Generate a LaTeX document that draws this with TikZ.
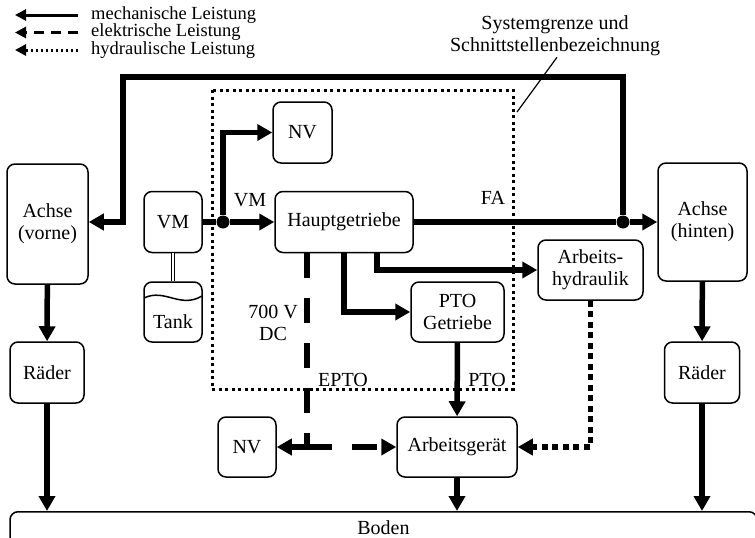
\documentclass[tikz,border=0pt]{standalone}
\usepackage{fontspec}
\setmainfont{Liberation Serif}
\usetikzlibrary{arrows.meta,positioning}

\tikzset{
  box/.style={draw,line width=1.5pt,rounded corners=8pt,align=center,inner sep=2pt},
  thickline/.style={line width=5.5pt},
  mech/.style={thickline,-{Triangle[length=15pt,width=16pt]}},
  elek/.style={mech,dash pattern=on 25pt off 20pt},
  hydr/.style={mech,dash pattern=on 6pt off 4.5pt},
  legmech/.style={line width=3pt,-{Triangle[length=11pt,width=11pt]}},
  legelek/.style={legmech,dash pattern=on 10pt off 7pt},
  leghydr/.style={legmech,dash pattern=on 2.5pt off 2.5pt},
  grenze/.style={line width=3pt,dash pattern=on 3pt off 3.5pt},
  junc/.style={circle,fill,inner sep=0pt,minimum size=13pt},
  lbl/.style={inner sep=1pt,align=center}
}

\begin{document}
\begin{tikzpicture}[x=1pt,y=-1pt,font=\fontsize{20pt}{22pt}\selectfont]
  \useasboundingbox (0,0) rectangle (755,538);

  % legend
  \foreach \y/\st/\txt in {15/legmech/mechanische Leistung,32.5/legelek/elektrische Leistung,50/leghydr/hydraulische Leistung} {
    \draw[\st] (78,\y) -- (15,\y);
    \node[inner sep=0pt,anchor=west,font=\fontsize{18.5pt}{20pt}\selectfont] at (91,\y) {\txt};
  }

  % system boundary
  \draw[grenze] (212,90) rectangle (513,389);
  \node[lbl] (sgtxt) at (555,36) {Systemgrenze und\\Schnittstellenbezeichnung};
  \coordinate (sgpt) at (517,112);
  \draw[line width=1.2pt] (sgpt) -- ([xshift=2pt]sgtxt.south);

  % blocks
  \node[box,minimum width=81pt,minimum height=120pt] (achsev) at (47.5,224) {Achse\\(vorne)};
  \node[box,minimum width=74pt,minimum height=61pt] (raederv) at (47,372.5) {Räder};
  \node[box,minimum width=58pt,minimum height=61pt] (vm) at (173,222) {VM};
  \node[box,minimum width=58pt,minimum height=60pt] (tank) at (173,312) {};
  \node[lbl] (tanktxt) at (173,322) {Tank};
  \node[box,minimum width=59pt,minimum height=61pt] (nv1) at (302.5,132.5) {NV};
  \node[box,minimum width=138pt,minimum height=61pt] (haupt) at (344,222) {Hauptgetriebe};
  \node[box,minimum width=93pt,minimum height=60pt] (ptog) at (457.5,312) {PTO\\Getriebe};
  \node[box,minimum width=105pt,minimum height=60pt] (arbhyd) at (590.5,270) {Arbeits-\\hydraulik};
  \node[box,minimum width=89pt,minimum height=118pt] (achseh) at (702.5,222) {Achse\\(hinten)};
  \node[box,minimum width=75pt,minimum height=61pt] (raederh) at (702,372.5) {Räder};
  \node[box,minimum width=120pt,minimum height=60pt] (arbg) at (457,447) {Arbeitsgerät};
  \node[box,minimum width=58pt,minimum height=60pt] (nv2) at (247,447) {NV};
  \node[box,anchor=north,minimum width=747pt,inner ysep=9pt,text depth=15pt] (boden) at (383.5,511) {Boden};

  % tank surface and fuel line
  \draw[line width=1.5pt] (144,298) .. controls (165,288) and (180,309) .. (202,296);
  \draw[double,double distance=2.5pt,line width=1.2pt] (vm) -- (tank);

  % junctions
  \node[junc] (jvm) at (223,222) {};
  \node[junc] (jfa) at (623,222) {};
  \coordinate (tl) at (123,77);
  \coordinate (jel) at (307,447);

  % mechanical power
  \draw[thickline] (vm) -- (jvm);
  \draw[mech] (jvm) -- (haupt);
  \draw[mech] (jvm) |- (nv1);
  \draw[thickline] (haupt) -- (jfa);
  \draw[mech] (jfa) -- (achseh);
  \draw[mech] (jfa) |- (tl) |- (achsev.east |- jvm);
  \draw[mech] (haupt.south) |- (ptog);
  \draw[mech] ([xshift=33pt]haupt.south) |- (arbhyd);
  \draw[mech] (ptog) -- (arbg);
  \draw[mech] (achsev) -- (raederv);
  \draw[mech] (achseh) -- (raederh);
  \draw[mech] (raederv) -- (raederv.south |- boden.north);
  \draw[mech] (raederh) -- (raederh.south |- boden.north);
  \draw[mech] (arbg) -- (arbg.south |- boden.north);

  % electrical power
  \draw[thickline,dash pattern=on 25pt off 20pt] ([xshift=-37pt]haupt.south) -- (jel);
  \draw[elek] (jel) -- (nv2);
  \draw[elek] (jel) -- (arbg);

  % hydraulic power
  \draw[hydr] (arbhyd) |- (arbg);

  % interface labels
  \node[lbl] (lvm) at (250,200) {VM};
  \node[lbl] (lfa) at (493,198) {FA};
  \node[lbl] (ldc) at (273,323) {700 V\\DC};
  \node[lbl] (lepto) at (343,380) {EPTO};
  \node[lbl] (lpto) at (487,380) {PTO};
\end{tikzpicture}
\end{document}
